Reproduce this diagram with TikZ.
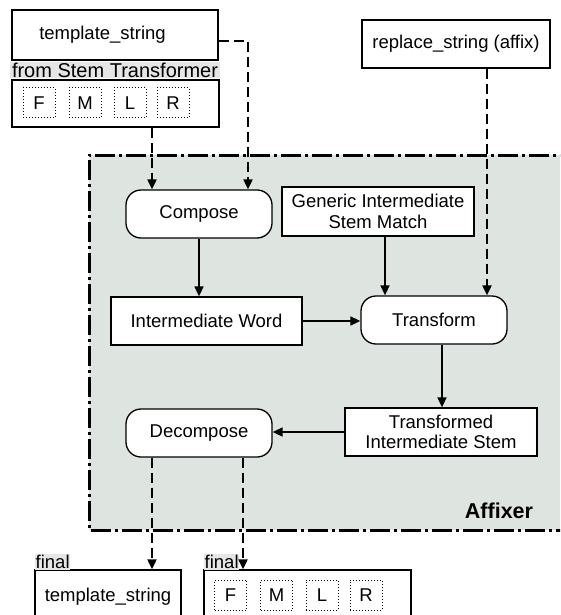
\documentclass[tikz,border=0pt]{standalone}
\usepackage{fontspec}
\setmainfont{Liberation Sans}
\usetikzlibrary{arrows.meta,calc}
\definecolor{affgray}{RGB}{222,228,224}
\definecolor{lblgray}{RGB}{230,230,230}
\begin{document}
\begin{tikzpicture}[x=1pt,y=-1pt,
  every node/.style={inner sep=0pt,font=\fontsize{18.5}{20.5}\selectfont},
  box/.style={draw,line width=1.3pt,fill=white,align=center},
  rbox/.style={box,rounded corners=15pt},
  slot/.style={draw,dotted,line width=1pt,minimum width=32pt,minimum height=30pt},
  lbl/.style={fill=lblgray,inner xsep=0.5pt,inner ysep=1pt},
  sarr/.style={line width=1.6pt,-{Triangle[length=10pt,width=9pt]}},
  darr/.style={line width=2pt,dash pattern=on 10pt off 5pt,-{Triangle[length=10pt,width=9pt]}},
  affborder/.style={line width=3pt,dash pattern=on 20pt off 4pt on 3pt off 4pt}
]
\clip (0,0) rectangle (560,615);
% Affixer region
\fill[affgray] (89,155) rectangle (580,530);
\draw[affborder] (580,155) -- (89,155) -- (89,530) -- (580,530);
\node[font=\fontsize{21.5}{24}\selectfont\bfseries] (afflbl) at (499,511) {Affixer};

% column coordinates
\coordinate (x152) at (152,0);
\coordinate (x248) at (248,0);
\coordinate (x487) at (487,0);
\coordinate (x385) at (385,0);
\coordinate (x442) at (442,0);
\coordinate (x243) at (243,0);

% top inputs
\node[box,line width=2pt,minimum width=206pt,minimum height=50pt] (ts) at (115,35) {template\_string\hspace*{25pt}};
\node[lbl,minimum width=210pt,minimum height=16pt,font=\fontsize{20}{22}\selectfont] (fromlbl) at (115,70) {from Stem Transformer};
\node[box,minimum width=207pt,minimum height=47pt] (fmlr) at (115.5,103.5) {};
\node[slot] (f1) at (39,103) {F};
\node[slot] (m1) at (85,103) {M};
\node[slot] (l1) at (130,103) {L};
\node[slot] (r1) at (173,103) {R};
\node[box,minimum width=188pt,minimum height=48pt] (rep) at (456,44) {replace\_string (affix)};

% process nodes
\node[rbox,minimum width=146pt,minimum height=48pt] (compose) at (199,214) {Compose};
\node[box,minimum width=192pt,minimum height=49pt] (gen) at (378,211.5) {Generic Intermediate\\Stem Match};
\node[box,minimum width=191pt,minimum height=48pt] (iw) at (206.5,321) {Intermediate Word};
\node[rbox,minimum width=146pt,minimum height=48pt] (tr) at (434,320) {Transform};
\node[box,minimum width=192pt,minimum height=48pt] (tis) at (441,432) {Transformed\\Intermediate Stem};
\node[rbox,minimum width=146pt,minimum height=48pt] (dec) at (199,433) {Decompose};

% outputs
\node[box,minimum width=146pt,minimum height=54pt] (bts) at (108,597) {template\_string};
\node[lbl,anchor=south west] (fin1) at (35,570) {final};
\node[box,minimum width=207pt,minimum height=54pt] (bfmlr) at (307.5,597) {};
\node[lbl,anchor=south west] (fin2) at (204,570) {final};
\node[slot] (f2) at (230.5,595) {F};
\node[slot] (m2) at (276.5,595) {M};
\node[slot] (l2) at (322,595) {L};
\node[slot] (r2) at (366,595) {R};

% connectors
\draw[darr] (fmlr.south -| x152) -- (compose.north -| x152);
\draw[darr] ([yshift=-6pt]ts.east) -| (compose.north -| x248);
\draw[darr] (rep.south -| x487) -- (tr.north -| x487);
\draw[sarr] (compose.south) -- (iw.north -| compose.south);
\draw[sarr] (gen.south -| x385) -- (tr.north -| x385);
\draw[sarr] (iw.east) -- (iw.east -| tr.west);
\draw[sarr] (tr.south -| x442) -- (tis.north -| x442);
\draw[sarr] (tis.west) -- (tis.west -| dec.east);
\draw[darr] (dec.south -| x152) -- (bts.north -| x152);
\draw[darr] (dec.south -| x243) -- (bfmlr.north -| x243);
\end{tikzpicture}
\end{document}
